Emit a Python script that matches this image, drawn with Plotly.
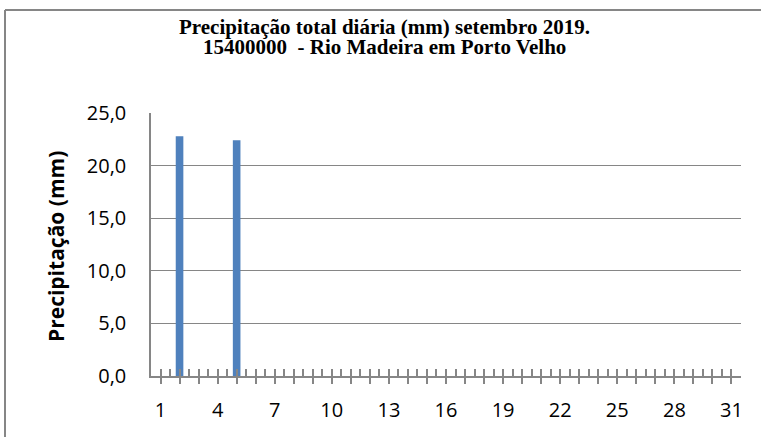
import plotly.graph_objects as go

# dados
dias = list(range(1, 32))
precipitacao = [0.0] * 31
precipitacao[1] = 22.8   # dia 2
precipitacao[4] = 22.4   # dia 5

rotulos_x = [str(d) if (d - 1) % 3 == 0 else "" for d in dias]
valores_y = [0, 5, 10, 15, 20, 25]
rotulos_y = ["0,0", "5,0", "10,0", "15,0", "20,0", "25,0"]

titulo_1 = "Precipitação total diária (mm) setembro 2019."
titulo_2 = "15400000  - Rio Madeira em Porto Velho"
titulo_y = "Precipitação (mm)"

cinza = "#868686"
azul = "#4F81BD"

# area do grafico em pixels
L, R, T, B = 151, 20, 113, 61
W, H = 761, 437
pw, ph = W - L - R, H - T - B

def px_x(p):
    return (p - L) / pw

def px_y(p):
    return (H - B - p) / ph

fig = go.Figure()

fig.add_trace(go.Bar(
    x=dias, y=precipitacao,
    width=0.4,
    marker=dict(color=azul, line=dict(width=0)),
    hoverinfo="x+y",
))

# traco invisivel so para o eixo dos ticks internos
fig.add_trace(go.Scatter(
    x=[1], y=[0], xaxis="x2", mode="markers",
    marker=dict(opacity=0), showlegend=False, hoverinfo="skip",
))

meias = [d - 0.5 for d in dias] + [31.5]

fonte_titulo = dict(family="Liberation Serif", size=21, color="black")

fig.update_layout(
    width=W, height=H,
    margin=dict(l=L, r=R, t=T, b=B, autoexpand=False),
    paper_bgcolor="white",
    plot_bgcolor="white",
    showlegend=False,
    bargap=0.6,
    xaxis=dict(
        range=[0.5, 31.5], automargin=False,
        tickmode="array", tickvals=dias, ticktext=rotulos_x,
        ticks="outside", ticklen=6, tickwidth=1.5, tickcolor=cinza,
        ticklabelstandoff=9,
        showline=True, linecolor=cinza, linewidth=1.5,
        showgrid=False, zeroline=False,
        tickfont=dict(family="Open Sans", size=20, color="black"),
    ),
    xaxis2=dict(
        overlaying="x", anchor="y", side="bottom",
        range=[0.5, 31.5], automargin=False,
        tickmode="array", tickvals=dias + meias,
        ticks="inside", ticklen=7, tickwidth=1.5, tickcolor=cinza,
        showticklabels=False, showline=False, showgrid=False, zeroline=False,
    ),
    yaxis=dict(
        range=[0, 25], automargin=False,
        tickmode="array", tickvals=valores_y, ticktext=rotulos_y,
        ticks="", ticklabelstandoff=19,
        showline=True, linecolor=cinza, linewidth=1.5,
        showgrid=True, gridcolor=cinza, gridwidth=1.2,
        zeroline=False,
        tickfont=dict(family="Open Sans", size=20, color="black"),
    ),
)

# titulo em duas linhas
fig.add_annotation(text="<b>" + titulo_1 + "</b>", xref="paper", yref="paper",
                   x=px_x(384), y=px_y(27.5), xanchor="center", yanchor="middle",
                   showarrow=False, font=fonte_titulo)
fig.add_annotation(text="<b>" + titulo_2 + "</b>", xref="paper", yref="paper",
                   x=px_x(384), y=px_y(46.5), xanchor="center", yanchor="middle",
                   showarrow=False, font=fonte_titulo)

# titulo do eixo y
fig.add_annotation(text="<b>" + titulo_y + "</b>", xref="paper", yref="paper",
                   x=px_x(56), y=px_y(247), xanchor="center", yanchor="middle",
                   textangle=-90, showarrow=False,
                   font=dict(family="Open Sans", size=21, color="black"))

# moldura externa (esquerda e topo)
fig.add_shape(type="line", xref="paper", yref="paper",
              x0=px_x(5), x1=px_x(5), y0=px_y(440), y1=px_y(10),
              line=dict(color=cinza, width=2))
fig.add_shape(type="line", xref="paper", yref="paper",
              x0=px_x(5), x1=px_x(765), y0=px_y(10), y1=px_y(10),
              line=dict(color=cinza, width=2))

fig.write_html("out.html", config={"displayModeBar": False},
               post_script="document.body.style.margin='0';")
